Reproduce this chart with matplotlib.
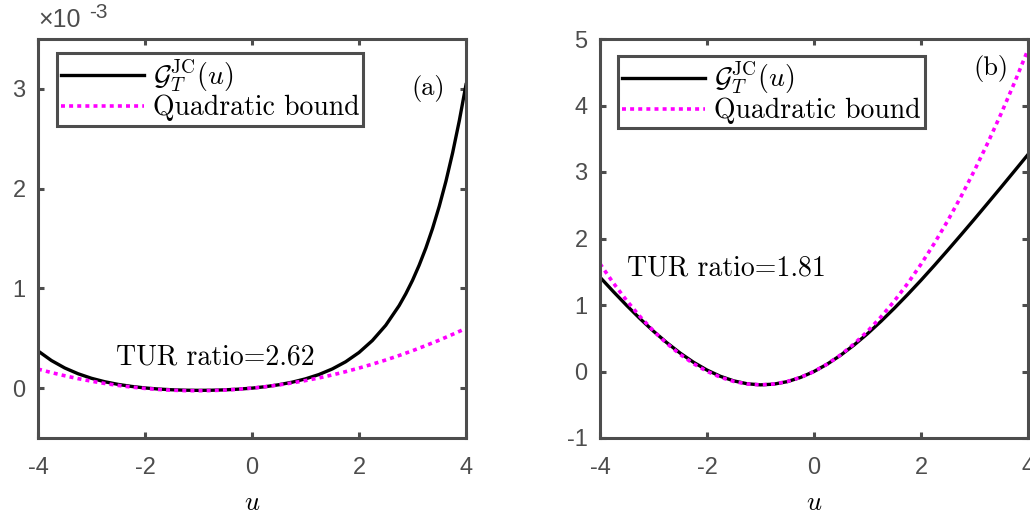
import matplotlib
matplotlib.use('Agg')
import matplotlib.pyplot as plt

plt.rcParams['mathtext.fontset'] = 'cm'
plt.rcParams['font.family'] = ['Liberation Sans', 'DejaVu Sans']

# values, u on a 0.25 grid
u = [-4.0, -3.75, -3.5, -3.25, -3.0, -2.75, -2.5, -2.25, -2.0, -1.75, -1.5,
     -1.25, -1.0, -0.75, -0.5, -0.25, 0.0, 0.25, 0.5, 0.75, 1.0, 1.25, 1.5,
     1.75, 2.0, 2.25, 2.5, 2.75, 3.0, 3.25, 3.5, 3.75, 4.0]

# panel (a), in units of 1e-3; the steep end is read more densely
u_a = [-4.0, -3.75, -3.5, -3.25, -3.0, -2.75, -2.5, -2.25, -2.0, -1.75, -1.5,
       -1.25, -1.0, -0.75, -0.5, -0.25, 0.0, 0.25, 0.5, 0.75, 1.0, 1.25, 1.5,
       1.75, 2.0, 2.25, 2.5, 2.75, 2.875, 3.0, 3.125, 3.25, 3.375, 3.5, 3.625,
       3.75, 3.875, 4.0]
g_a = [0.373, 0.277, 0.202, 0.144, 0.0985, 0.0638, 0.0371, 0.0169, 0.0018,
       -0.0091, -0.0164, -0.0208, -0.0223, -0.0211, -0.0172, -0.0103, 0.0,
       0.0144, 0.0338, 0.0594, 0.0929, 0.136, 0.192, 0.264, 0.357, 0.477,
       0.630, 0.827, 0.946, 1.080, 1.233, 1.405, 1.601, 1.823, 2.074, 2.359,
       2.681, 3.042]
quad_a = [0.191, 0.156, 0.124, 0.0951, 0.0693, 0.0465, 0.0269, 0.0103, -0.0032,
          -0.0136, -0.0209, -0.0252, -0.0263, -0.0244, -0.0193, -0.0112, 0.0,
          0.0143, 0.0317, 0.0522, 0.0757, 0.102, 0.132, 0.165, 0.201, 0.240,
          0.282, 0.327, 0.375, 0.427, 0.481, 0.539, 0.599]

# panel (b)
g_b = [1.418, 1.201, 0.992, 0.793, 0.606, 0.4325, 0.276, 0.138, 0.0215,
       -0.0723, -0.141, -0.1845, -0.2009, -0.190, -0.1525, -0.0888, 0.0,
       0.112, 0.246, 0.399, 0.568, 0.753, 0.950, 1.157, 1.372, 1.595, 1.824,
       2.057, 2.293, 2.533, 2.774, 3.018, 3.263]
quad_b = [1.620, 1.330, 1.065, 0.8245, 0.610, 0.420, 0.256, 0.1165, 0.0026,
          -0.0861, -0.1495, -0.1876, -0.2006, -0.1883, -0.1508, -0.088, 0.0,
          0.113, 0.252, 0.416, 0.604, 0.819, 1.058, 1.323, 1.613, 1.928, 2.268,
          2.634, 3.025, 3.441, 3.882, 4.349, 4.840]

x_ticks = [-4, -2, 0, 2, 4]
GRAY = '#4d4d4d'
MAGENTA = '#ff00ff'
SERIF = 'cmr10'


def style_axes(ax, ylim, yticks):
    ax.set_xlim(-4, 4)
    ax.set_ylim(*ylim)
    ax.set_xticks(x_ticks)
    ax.set_yticks(yticks)
    ax.set_xticklabels([str(t) for t in x_ticks])
    ax.set_yticklabels([str(t) for t in yticks])
    for s in ax.spines.values():
        s.set_linewidth(2.2)
        s.set_color(GRAY)
    ax.tick_params(direction='in', length=4, width=2.2, color=GRAY,
                   labelcolor=GRAY, labelsize=17, top=True, right=True, pad=9)
    ax.tick_params(axis='x', pad=14)
    ax.set_xlabel(r'$u$', fontsize=19, labelpad=8)


def draw_panel(ax, x, g, quad, leg_anchor):
    ax.plot(x, g, color='black', lw=2.4, label=r'$\mathcal{G}_T^{\mathrm{JC}}(u)$')
    ax.plot(u, quad, color=MAGENTA, lw=2.6, linestyle=(0, (1.1, 1.15)),
            label='Quadratic bound')
    leg = ax.legend(loc='upper left', bbox_to_anchor=leg_anchor, borderaxespad=0,
                    prop={'family': SERIF, 'size': 20}, handlelength=3.0,
                    handletextpad=0.3, borderpad=0.15, labelspacing=0.05,
                    fancybox=False, framealpha=1)
    leg.get_frame().set_edgecolor(GRAY)
    leg.get_frame().set_linewidth(2.2)


fig = plt.figure(figsize=(10.30, 5.19), dpi=100)
ax1 = fig.add_axes([38 / 1030, 81 / 519, 428 / 1030, 399 / 519])
ax2 = fig.add_axes([600 / 1030, 81 / 519, 428 / 1030, 399 / 519])

draw_panel(ax1, u_a, g_a, quad_a, (0.044, 0.965))
style_axes(ax1, (-0.5, 3.5), [0, 1, 2, 3])
ax1.text(3.3, 3.0, '(a)', family=SERIF, fontsize=19, ha='center', va='center')
ax1.text(-2.55, 0.31, 'TUR ratio=2.62', family=SERIF, fontsize=20,
         ha='left', va='center')
fig.text(38 / 1030, 1 - 20 / 519, '×10', fontsize=18, color=GRAY,
         ha='left', va='center')
fig.text(89 / 1030, 1 - 12 / 519, '-3', fontsize=15, color=GRAY,
         ha='left', va='center')

draw_panel(ax2, u, g_b, quad_b, (0.042, 0.958))
style_axes(ax2, (-1, 5), [-1, 0, 1, 2, 3, 4, 5])
ax2.text(3.3, 4.55, '(b)', family=SERIF, fontsize=19, ha='center', va='center')
ax2.text(-3.5, 1.55, 'TUR ratio=1.81', family=SERIF, fontsize=20,
         ha='left', va='center')

fig.savefig('out.png', dpi=100)
